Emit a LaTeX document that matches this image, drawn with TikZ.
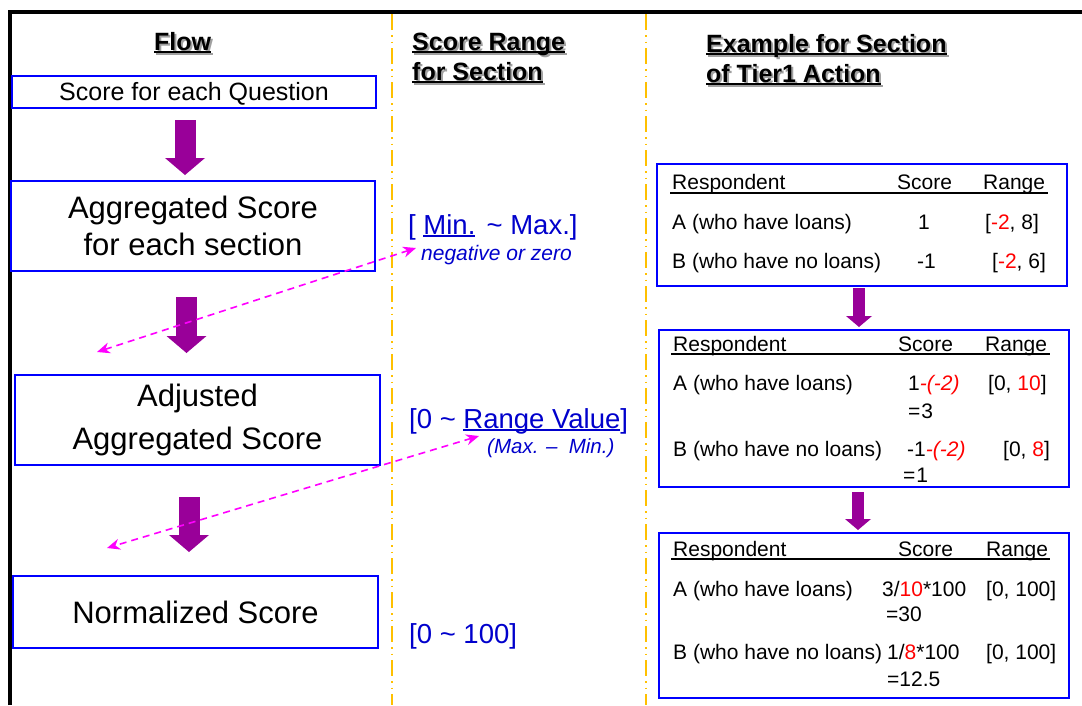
\documentclass[tikz,border=0pt]{standalone}
\usepackage{fontspec}
\setmainfont{Liberation Sans}
\usepackage{tikz}
\usetikzlibrary{arrows.meta,positioning}
\definecolor{boxblue}{HTML}{0000FF}
\definecolor{txtblue}{HTML}{0000CC}
\definecolor{flowpurple}{HTML}{990099}
\definecolor{linkpink}{HTML}{FF00FF}
\definecolor{divyellow}{HTML}{FFC000}
\definecolor{hdrshade}{HTML}{A0A0A0}

\newcommand{\fshdr}{\fontsize{25}{30}\selectfont\bfseries}
\newcommand{\fsq}{\fontsize{25}{30}\selectfont}
\newcommand{\fsbox}{\fontsize{31}{37}\selectfont}
\newcommand{\fsmid}{\fontsize{27.5}{33}\selectfont}
\newcommand{\fsnote}{\fontsize{21}{25}\selectfont\itshape}
\newcommand{\fstab}{\fontsize{21}{25}\selectfont}
\newlength{\ulwd}
\newcommand{\uln}[1]{\settowidth{\ulwd}{#1}\rlap{\rule[-3pt]{\ulwd}{2pt}}#1}
\newcommand{\redt}[1]{\textcolor{red}{#1}}
% header text with grey drop shadow
\newcommand{\hdrline}[4]{%
  \node[hdr, text=hdrshade] (#1s) at (#2+2,#3+2) {\uln{#4}};
  \node[hdr] (#1) at (#2,#3) {\uln{#4}};}

\begin{document}
\begin{tikzpicture}[x=1pt, y=-1pt,
  flowbox/.style={draw=boxblue, line width=2pt, fill=white, minimum width=365pt, align=center, inner sep=0pt},
  hdr/.style={font=\fshdr, inner sep=0pt, anchor=base west},
  midtxt/.style={text=txtblue, inner sep=0pt, anchor=base west},
  tbl/.style={draw=boxblue, line width=2pt, fill=white, minimum width=410pt},
  cell/.style={font=\fstab, inner sep=0pt, anchor=base west},
  blockarr/.style={draw=flowpurple, line width=21pt, -{Triangle[length=17pt 0, width=40pt 0, line width=0pt 0]}},
  smallarr/.style={draw=flowpurple, line width=12pt, -{Triangle[length=11pt 0, width=26pt 0, line width=0pt 0]}},
  link/.style={draw=linkpink, line width=1.6pt, dash pattern=on 7pt off 5pt,
    {Stealth[length=13pt 0, width=11pt 0]}-{Stealth[length=13pt 0, width=11pt 0]}},
  divider/.style={draw=divyellow, line width=2pt, dash pattern=on 16pt off 5pt on 1.5pt off 5pt on 1.5pt off 5pt}]
  \useasboundingbox (0,0) rectangle (1082,705);

  % frame and column dividers
  \draw[line width=4pt] (9.5,705) -- (9.5,12) -- (1082,12);
  \foreach \xx in {392,646}
    \draw[divider] (\xx,14) -- (\xx,705);

  % headers
  \hdrline{flow}{154}{50}{Flow}
  \hdrline{rangeA}{412}{50}{Score Range}
  \hdrline{rangeB}{412}{80}{for Section}
  \hdrline{exA}{706}{52}{Example for Section}
  \hdrline{exB}{706}{82}{of Tier1 Action}

  % flow column
  \node[flowbox, minimum width=364pt, minimum height=32pt, text height=18pt, text depth=1pt, font=\fsq] (qbox) at (194,92) {Score for each Question};
  \node[flowbox, minimum width=364pt, minimum height=90pt, font=\fsbox] (aggbox) at (193,226) {Aggregated Score\\for each section};
  \node[flowbox, minimum height=90pt, font=\fontsize{31}{43}\selectfont] (adjbox) at (197.5,420) {Adjusted\\Aggregated Score};
  \node[flowbox, minimum height=72pt, font=\fsbox] (normbox) at (195.5,612) {Normalized Score};
  \draw[blockarr, shorten <=11pt, shorten >=5pt] ([xshift=-9pt]qbox.south) -- ([xshift=-8pt]aggbox.north);
  \draw[blockarr, shorten <=25pt, shorten >=21pt] ([xshift=-6.5pt]aggbox.south) -- ([xshift=-11pt]adjbox.north);
  \draw[blockarr, shorten <=31pt, shorten >=23pt] ([xshift=-8.5pt]adjbox.south) -- ([xshift=-6.5pt]normbox.north);

  % score range column
  \node[midtxt, font=\fsmid] (minmax) at (408,234) {[ \uln{Min.}\hspace{1pt} \textasciitilde{} Max.]};
  \node[midtxt, font=\fsnote] (neg) at (421,260) {negative or zero};
  \node[midtxt, font=\fsmid] (rngval) at (409,428) {[0 \textasciitilde{} \uln{Range Value}]};
  \node[midtxt, font=\fontsize{20.5}{24}\selectfont\itshape] (maxmin) at (487,453) {(Max. -- \ Min.)};
  \node[midtxt, font=\fsmid] (hundred) at (409,643) {[0 \textasciitilde{} 100]};
  \coordinate (negtip) at (416,248);
  \coordinate (aggtip) at (97,352);
  \coordinate (rngtip) at (479,436);
  \coordinate (adjtip) at (107,548);
  \draw[link] (negtip) -- (aggtip);
  \draw[link] (rngtip) -- (adjtip);

  % example column
  \node[tbl, minimum height=122pt] (tab1) at (862,225) {};
  \node[tbl, minimum height=157pt] (tab2) at (864,408.5) {};
  \node[tbl, minimum height=165pt] (tab3) at (864,615.5) {};
  \draw[smallarr, shorten <=1pt, shorten >=2pt] ([xshift=-3pt]tab1.south) -- ([xshift=-5pt]tab2.north);
  \draw[smallarr, shorten <=4pt, shorten >=2pt] ([xshift=-6pt]tab2.south) -- ([xshift=-6pt]tab3.north);

  % table 1
  \node[cell] (t1r) at (672,189) {Respondent};
  \node[cell] (t1s) at (897,189) {Score};
  \node[cell] (t1g) at (983,189) {Range};
  \draw[line width=1.5pt] (670,193) -- (1048,193);
  \node[cell] (t1a) at (672,229) {A (who have loans)};
  \node[cell] (t1as) at (918,229) {1};
  \node[cell] (t1ag) at (985,229) {[\redt{-2}, 8]};
  \node[cell] (t1b) at (672,268) {B (who have no loans)};
  \node[cell] (t1bs) at (917,268) {-1};
  \node[cell] (t1bg) at (992,268) {[\redt{-2}, 6]};

  % table 2
  \node[cell] (t2r) at (673,351) {Respondent};
  \node[cell] (t2s) at (898,351) {Score};
  \node[cell] (t2g) at (985,351) {Range};
  \draw[line width=1.5pt] (671,354) -- (1050,354);
  \node[cell] (t2a) at (673,390) {A (who have loans)};
  \node[cell] (t2as) at (908,390) {1\redt{\itshape -(-2)}};
  \node[cell] (t2as2) at (908,418) {=\hspace{1pt}3};
  \node[cell] (t2ag) at (988,390) {[0, \redt{10}]};
  \node[cell] (t2b) at (673,456) {B (who have no loans)};
  \node[cell] (t2bs) at (907,456) {-1\redt{\itshape -(-2)}};
  \node[cell] (t2bs2) at (903,482) {=\hspace{1pt}1};
  \node[cell] (t2bg) at (1003,456) {[0, \redt{8}]};

  % table 3
  \node[cell] (t3r) at (673,556) {Respondent};
  \node[cell] (t3s) at (898,556) {Score};
  \node[cell] (t3g) at (986,556) {Range};
  \draw[line width=1.5pt] (671,559) -- (1050,559);
  \node[cell] (t3a) at (673,596) {A (who have loans)};
  \node[cell] (t3as) at (882,596) {3/\redt{10}*100};
  \node[cell] (t3as2) at (886,621) {=30};
  \node[cell] (t3ag) at (986,596) {[0, 100]};
  \node[cell] (t3b) at (673,659) {B (who have no loans)};
  \node[cell] (t3bs) at (887,659) {1/\redt{8}*100};
  \node[cell] (t3bs2) at (887,686) {=12.5};
  \node[cell] (t3bg) at (986,659) {[0, 100]};
\end{tikzpicture}
\end{document}
